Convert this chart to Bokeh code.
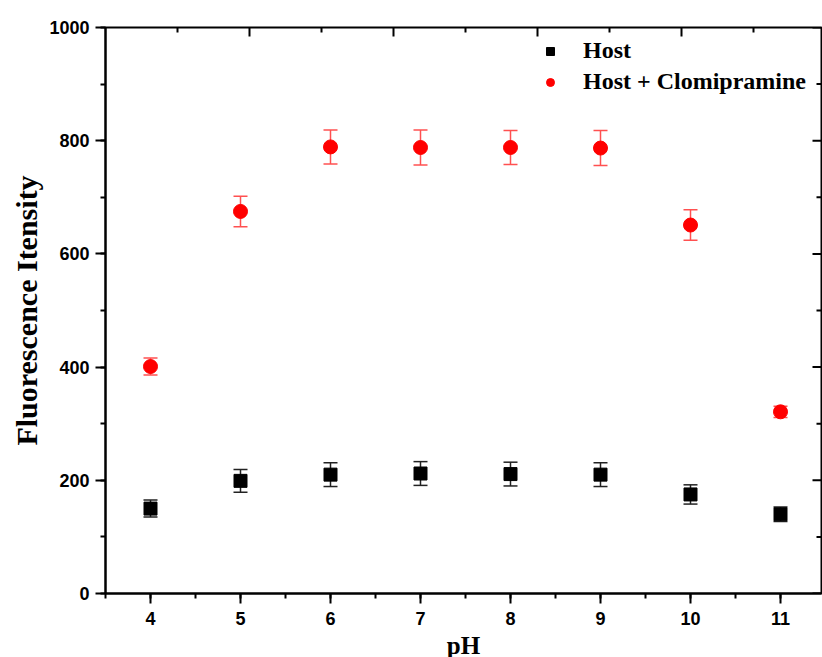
from bokeh.plotting import figure
from bokeh.models import (ColumnDataSource, Whisker, TeeHead, Range1d,
                          SingleIntervalTicker, Legend, LegendItem)
from bokeh.embed import file_html
from bokeh.resources import INLINE

ph = [4, 5, 6, 7, 8, 9, 10, 11]
host = [150, 199, 210, 212, 211, 210, 175, 140]
host_err = [15, 20, 21, 21, 21, 21, 17, 13]
complex_ = [401, 675, 789, 788, 788, 787, 651, 321]
complex_err = [15, 27, 30, 31, 30, 31, 27, 10]

# tick values of the unlabeled top / right frame ticks
top_major = [1, 2, 3, 4]
top_minor = [0.5, 1.5, 2.5, 3.5, 4.5]
right_major = [0, 200, 400, 600, 800, 1000]
right_minor = [100, 300, 500, 700, 900]

SERIF = "Liberation Serif"
SANS = "Liberation Sans"

FW, FH = 716, 566
PX_PER_PH = 90
p = figure(frame_width=FW, frame_height=FH,
           x_range=Range1d(3.5, 3.5 + FW / PX_PER_PH), y_range=Range1d(0, 1000),
           output_backend="svg", toolbar_location=None,
           min_border_left=105, min_border_top=27, min_border_bottom=0, min_border_right=1)
p.grid.visible = False
p.outline_line_color = "black"
p.outline_line_width = 2
p.background_fill_color = "white"
p.border_fill_color = "white"

p.xaxis.ticker = SingleIntervalTicker(interval=1, num_minor_ticks=2)
p.yaxis.ticker = SingleIntervalTicker(interval=200, num_minor_ticks=2)
for ax in (p.xaxis[0], p.yaxis[0]):
    ax.axis_line_width = 2
    ax.major_tick_line_width = 2
    ax.minor_tick_line_width = 2
    ax.major_tick_out = 10
    ax.major_tick_in = 0
    ax.minor_tick_out = 5
    ax.minor_tick_in = 0
    ax.major_label_text_font = SANS
    ax.major_label_text_font_style = "bold"
    ax.major_label_text_font_size = "18px"
    ax.major_label_text_color = "black"
    ax.axis_label_text_font = SERIF
    ax.axis_label_text_font_style = "bold"
    ax.axis_label_text_color = "black"
p.xaxis.axis_label = "pH"
p.yaxis.axis_label = "Fluorescence Itensity"
p.xaxis.axis_label_text_font_size = "25px"
p.yaxis.axis_label_text_font_size = "30px"
p.xaxis.major_label_standoff = 8
p.yaxis.major_label_standoff = 6
p.xaxis.axis_label_standoff = 4
p.yaxis.axis_label_standoff = 3

# inward ticks along the top and right frame edges
p.extra_x_ranges = {"top": Range1d(0, FW / 144), "px": Range1d(0, FW)}
p.extra_y_ranges = {"py": Range1d(0, FH)}
p.segment(x0=top_major, x1=top_major, y0=[FH] * len(top_major), y1=[FH - 9] * len(top_major),
          x_range_name="top", y_range_name="py", line_color="black", line_width=2)
p.segment(x0=top_minor, x1=top_minor, y0=[FH] * len(top_minor), y1=[FH - 5] * len(top_minor),
          x_range_name="top", y_range_name="py", line_color="black", line_width=2)
p.segment(x0=[FW] * len(right_major), x1=[FW - 9] * len(right_major), y0=right_major, y1=right_major,
          x_range_name="px", line_color="black", line_width=2)
p.segment(x0=[FW] * len(right_minor), x1=[FW - 5] * len(right_minor), y0=right_minor, y1=right_minor,
          x_range_name="px", line_color="black", line_width=2)

src_h = ColumnDataSource(dict(x=ph, y=host,
                              lo=[v - e for v, e in zip(host, host_err)],
                              hi=[v + e for v, e in zip(host, host_err)]))
src_c = ColumnDataSource(dict(x=ph, y=complex_,
                              lo=[v - e for v, e in zip(complex_, complex_err)],
                              hi=[v + e for v, e in zip(complex_, complex_err)]))

wh = Whisker(source=src_h, base="x", upper="hi", lower="lo", line_color="#222222", line_width=1.5,
             upper_head=TeeHead(size=14, line_color="#222222", line_width=1.5),
             lower_head=TeeHead(size=14, line_color="#222222", line_width=1.5))
wc = Whisker(source=src_c, base="x", upper="hi", lower="lo", line_color="#ff5050", line_width=1.5,
             upper_head=TeeHead(size=14, line_color="#ff5050", line_width=1.5),
             lower_head=TeeHead(size=14, line_color="#ff5050", line_width=1.5))
p.add_layout(wh)
p.add_layout(wc)

r1 = p.scatter("x", "y", source=src_h, marker="square", size=13, fill_color="black", line_color="black")
r2 = p.scatter("x", "y", source=src_c, marker="circle", size=14, fill_color="red", line_color="red")

leg = Legend(items=[LegendItem(label="Host", renderers=[r1]),
                    LegendItem(label="Host + Clomipramine", renderers=[r2])],
             location=(435, 498))
leg.label_text_font = SERIF
leg.label_text_font_style = "bold"
leg.label_text_font_size = "24px"
leg.label_text_color = "black"
leg.border_line_color = None
leg.background_fill_alpha = 0
leg.padding = 0
leg.margin = 0
leg.spacing = 4
leg.glyph_width = 20
leg.glyph_height = 26
leg.label_standoff = 23
p.add_layout(leg, "center")

open("out.html", "w").write(file_html(p, INLINE))
